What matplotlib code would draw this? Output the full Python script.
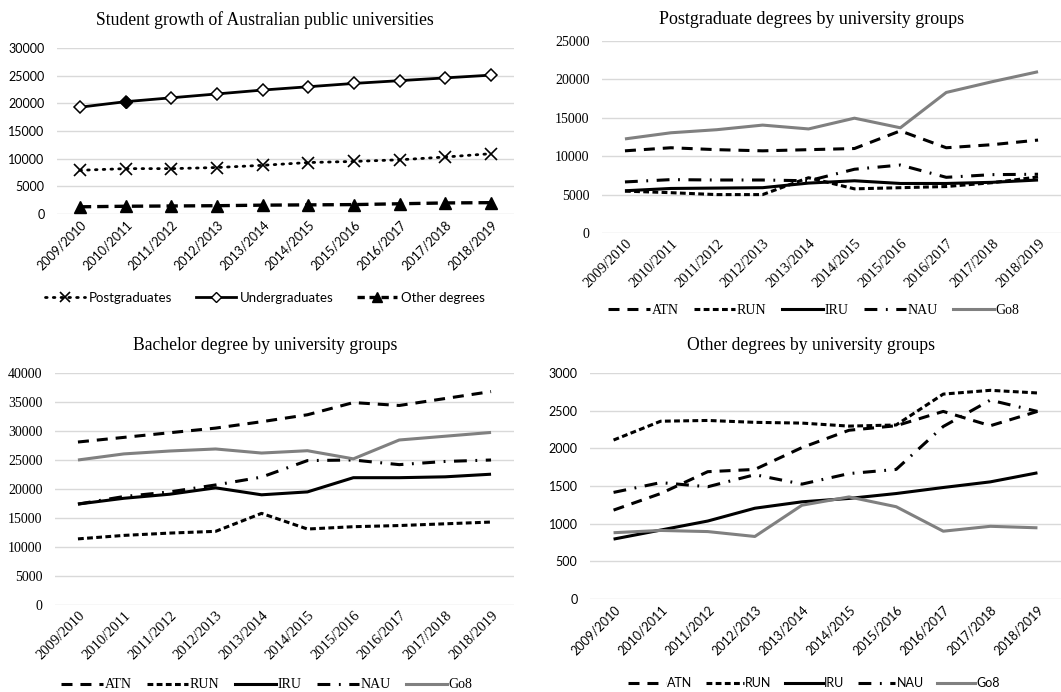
import numpy as np
import matplotlib
matplotlib.use("Agg")
import matplotlib.pyplot as plt
from matplotlib.lines import Line2D

# years (categories)
years = ['2009/2010', '2010/2011', '2011/2012', '2012/2013', '2013/2014',
         '2014/2015', '2015/2016', '2016/2017', '2017/2018', '2018/2019']

# student growth, all public universities
postgrad = [7900, 8200, 8200, 8400, 8800, 9300, 9500, 9800, 10300, 10900]
undergrad = [19300, 20300, 21000, 21700, 22400, 23000, 23600, 24100, 24600, 25100]
other = [1300, 1400, 1450, 1500, 1600, 1650, 1700, 1850, 2000, 2050]

# postgraduate degrees by group
pg_atn = [10700, 11100, 10850, 10700, 10850, 11000, 13300, 11100, 11500, 12100]
pg_run = [5450, 5250, 5000, 5000, 7200, 5750, 5900, 6050, 6550, 7300]
pg_iru = [5500, 5800, 5850, 5900, 6500, 6800, 6450, 6450, 6600, 6900]
pg_nau = [6650, 6950, 6900, 6900, 6800, 8300, 8850, 7250, 7600, 7650]
pg_go8 = [12250, 13050, 13450, 14050, 13550, 14950, 13700, 18300, 19700, 21000]

# bachelor degree by group
ba_atn = [28100, 28900, 29700, 30500, 31600, 32800, 34900, 34400, 35600, 36800]
ba_run = [11400, 12000, 12400, 12700, 15800, 13100, 13500, 13700, 14000, 14300]
ba_iru = [17400, 18400, 19100, 20200, 19000, 19500, 21950, 21950, 22100, 22550]
ba_nau = [17400, 18700, 19500, 20700, 22050, 24900, 25000, 24200, 24750, 25000]
ba_go8 = [25000, 26050, 26550, 26900, 26200, 26600, 25200, 28450, 29100, 29750]

# other degrees by group
ot_atn = [1180, 1400, 1690, 1720, 2010, 2240, 2300, 2490, 2300, 2490]
ot_run = [2110, 2360, 2370, 2345, 2335, 2295, 2310, 2720, 2770, 2735]
ot_iru = [795, 915, 1035, 1205, 1290, 1335, 1400, 1480, 1555, 1675]
ot_nau = [1415, 1545, 1490, 1650, 1525, 1665, 1720, 2290, 2640, 2490]
ot_go8 = [880, 910, 895, 830, 1245, 1355, 1225, 900, 965, 945]

groups = ['ATN', 'RUN', 'IRU', 'NAU', 'Go8']

SERIF = 'Liberation Serif'
SANS = 'Lato'
GRID = '#d9d9d9'
GRAY = '#808080'

group_styles = {
    'ATN': dict(color='black', lw=2.2, dashes=(3.6, 2.6)),
    'RUN': dict(color='black', lw=2.2, dashes=(1.9, 1.1)),
    'IRU': dict(color='black', lw=2.2, linestyle='-'),
    'NAU': dict(color='black', lw=2.2, dashes=(4.2, 2.8, 0.6, 2.8)),
    'Go8': dict(color=GRAY, lw=2.2, linestyle='-'),
}

fig = plt.figure(figsize=(10.61, 6.92), dpi=100)


def setup(ax, ymax, step, font):
    x = np.arange(len(years))
    xs = 10.5 if font == SERIF else 9
    ys = 10 if font == SERIF else 9
    ax.set_xlim(-0.5, len(years) - 0.5)
    ax.set_ylim(0, ymax)
    ax.set_yticks(np.arange(0, ymax + 1, step))
    ax.set_xticks(x)
    ax.set_xticklabels(years, rotation=45, ha='right', rotation_mode='anchor',
                       fontfamily=font, fontsize=xs)
    for lab in ax.get_yticklabels():
        lab.set_fontfamily(font)
        lab.set_fontsize(ys)
    ax.tick_params(length=0, pad=9)
    ax.tick_params(axis='x', pad=3)
    for s in ax.spines.values():
        s.set_visible(False)
    ax.grid(axis='y', color=GRID, lw=1.0)
    ax.set_axisbelow(True)
    return x


def group_panel(ax, data, ymax, step, font):
    x = setup(ax, ymax, step, font)
    for g, vals in zip(groups, data):
        ax.plot(x, vals, solid_capstyle='butt', dash_capstyle='butt',
                clip_on=False, **group_styles[g])


def group_legend(cx, cy, font, size):
    handles = [Line2D([], [], **group_styles[g]) for g in groups]
    fig.legend(handles, groups, loc='center', bbox_to_anchor=(cx, cy),
               ncol=5, frameon=False, handlelength=3.0, handletextpad=0.1,
               columnspacing=1.1, prop={'family': font, 'size': size})


# top-left: overall growth
ax1 = fig.add_axes([57 / 1061, 1 - 214 / 692, 457 / 1061, 166 / 692])
x = setup(ax1, 30000, 5000, SANS)
ax1.plot(x, postgrad, color='black', lw=2, linestyle=(0, (0.6, 2.2)),
         dash_capstyle='round', marker='x', ms=8, mew=1.2, clip_on=False)
ax1.plot(x, undergrad, color='black', lw=2, marker='D', ms=6, mfc='white',
         mec='black', mew=1.1, clip_on=False)
ax1.plot(x[1], undergrad[1], color='black', marker='D', ms=6, clip_on=False)
ax1.plot(x, other, color='black', lw=2.4, dashes=(3.4, 1.8), marker='^',
         ms=9, clip_on=False)
h1 = [Line2D([], [], color='black', lw=2, linestyle=(0, (0.6, 2.2)),
             dash_capstyle='round', marker='x', ms=7, mew=1.2),
      Line2D([], [], color='black', lw=2, marker='D', ms=5, mfc='white', mec='black'),
      Line2D([], [], color='black', lw=2.4, dashes=(2.2, 1.4), marker='^', ms=7)]
fig.legend(h1, ['Postgraduates', 'Undergraduates', 'Other degrees'], loc='center',
           bbox_to_anchor=(265 / 1061, 1 - 298 / 692), ncol=3, frameon=False,
           handlelength=3.0, handletextpad=0.3, columnspacing=1.8,
           prop={'family': SANS, 'size': 9.5})
fig.text(265 / 1061, 1 - 20 / 692, 'Student growth of Australian public universities',
         ha='center', va='center', fontfamily=SERIF, fontsize=12.7)

# top-right: postgraduate
ax2 = fig.add_axes([602 / 1061, 1 - 233 / 692, 459 / 1061, 192 / 692])
group_panel(ax2, [pg_atn, pg_run, pg_iru, pg_nau, pg_go8], 25000, 5000, SERIF)
group_legend(814 / 1061, 1 - 310 / 692, SERIF, 10)
fig.text(812 / 1061, 1 - 19 / 692, 'Postgraduate degrees by university groups',
         ha='center', va='center', fontfamily=SERIF, fontsize=13)

# bottom-left: bachelor
ax3 = fig.add_axes([55 / 1061, 1 - 605 / 692, 459 / 1061, 232 / 692])
group_panel(ax3, [ba_atn, ba_run, ba_iru, ba_nau, ba_go8], 40000, 5000, SERIF)
group_legend(267 / 1061, 1 - 685 / 692, SERIF, 10)
fig.text(265 / 1061, 1 - 345 / 692, 'Bachelor degree by university groups',
         ha='center', va='center', fontfamily=SERIF, fontsize=12.7)

# bottom-right: other degrees
ax4 = fig.add_axes([590 / 1061, 1 - 599 / 692, 471 / 1061, 226 / 692])
group_panel(ax4, [ot_atn, ot_run, ot_iru, ot_nau, ot_go8], 3000, 500, SANS)
group_legend(814 / 1061, 1 - 683 / 692, SANS, 9)
fig.text(811 / 1061, 1 - 345 / 692, 'Other degrees by university groups',
         ha='center', va='center', fontfamily=SERIF, fontsize=12.7)

fig.savefig('out.png', dpi=100)
